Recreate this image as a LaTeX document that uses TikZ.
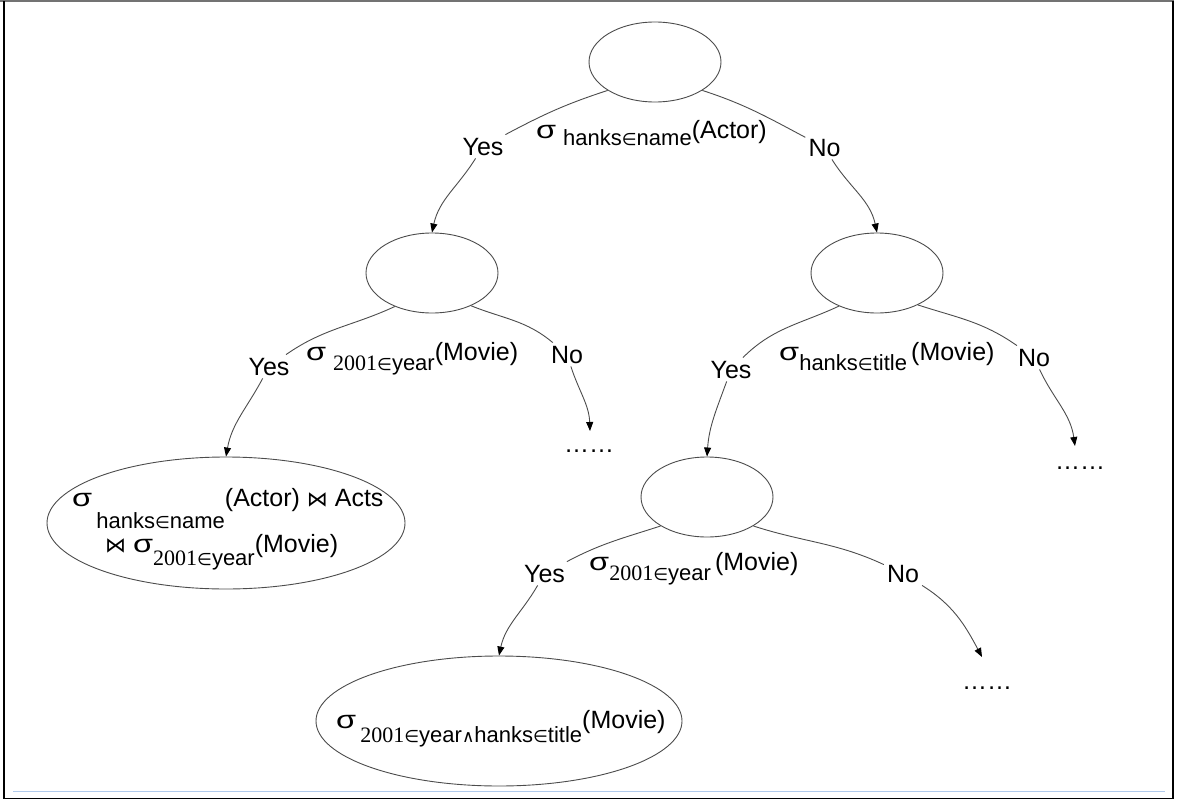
\documentclass[tikz,border=0pt]{standalone}
\usepackage{fontspec}
\usepackage{graphicx}
\setmainfont{Liberation Sans}
\newfontfamily\symf{DejaVu Sans}
\newfontfamily\serf{Liberation Serif}
\usetikzlibrary{shapes.geometric,arrows.meta}

% wide selection sigma and small operators inside subscripts
\newcommand\sig{\scalebox{1.3}[1]{σ}}
\newcommand\elt{{\symf\fontsize{17}{17}\selectfont ∈}}
\newcommand\andop{{\symf\fontsize{17}{17}\selectfont ∧}}
\newcommand\yrs{{\serf 2001}}
\newcommand\bowt{{\symf\fontsize{21}{21}\selectfont ⋈}}
% lowered subscript text
\newcommand\lowsub[2][-7pt]{\raisebox{#1}{\fontsize{22}{22}\selectfont #2}}

\definecolor{rulecol}{RGB}{176,202,236}

\begin{document}
\begin{tikzpicture}[x=1pt,y=1pt,
  every node/.style={font=\fontsize{25}{25}\selectfont, inner sep=0pt},
  box/.style={ellipse, draw=black!70, line width=0.9pt,
              minimum width=132pt, minimum height=80pt, inner sep=0pt},
  ans/.style={ellipse, draw=black!70, line width=0.9pt, inner sep=0pt},
  edge/.style={draw=black!70, line width=0.9pt},
  arr/.style={edge, -{Triangle[length=9pt,width=7pt,color=black]}},
  yn/.style={inner sep=3pt, anchor=base},
  lab/.style={anchor=base west},
]
\useasboundingbox (0,0) rectangle (1178,-800);

% frame
\draw[line width=1.6pt, black!55] (0,-0.8) -- (1174,-0.8);
\draw[line width=1.3pt] (4,-1) -- (4,-798.6) -- (1173,-798.6) -- (1173,-1);
\draw[line width=1pt, rulecol] (13,-791) -- (1165,-791);

% decision nodes and results
\node[box] (r0) at (655,-62) {};
\node[box] (ya) at (432,-273) {};
\node[box] (na) at (877,-273) {};
\node[box] (yb) at (707,-497) {};
\node[ans, minimum width=358pt, minimum height=132pt] (la) at (226,-523) {};
\node[ans, minimum width=366pt, minimum height=130pt] (lb) at (499,-721) {};

% branch labels and selections
\node[yn] (y1) at (483,-155) {Yes};
\node[yn] (n1) at (824.5,-156) {No};
\node[lab] (s1) at (536,-138) {\sig\ \lowsub[-7pt]{hanks\elt name}(Actor)};

\node[yn] (y2) at (269,-375) {Yes};
\node[yn] (n2) at (567,-363) {No};
\node[lab] (s2) at (306,-360) {\sig\ \lowsub[-10pt]{\yrs\elt year}(Movie)};

\node[yn] (y3) at (731,-378) {Yes};
\node[yn] (n3) at (1034,-366) {No};
\node[lab] (s3) at (779,-360) {\sig\lowsub[-10pt]{hanks\elt title}\,(Movie)};

\node[yn] (y4) at (544.5,-582) {Yes};
\node[yn] (n4) at (903,-582) {No};
\node[lab] (s4) at (589,-570) {\sig\lowsub[-10pt]{\yrs\elt year}\,(Movie)};

% result texts
\node[lab] (ta1) at (72,-506) {\sig\,\lowsub[-22pt]{hanks\elt name}(Actor) \bowt\ Acts};
\node[lab] (ta2) at (105,-552) {\bowt\ \sig\lowsub[-13pt]{\yrs\elt year}(Movie)};
\node[lab] (tb) at (336,-728) {\sig\,\lowsub[-14pt]{\yrs\elt year\andop hanks\elt title}(Movie)};

% unexplored branches
\node[lab] (d1) at (564,-452) {……};
\node[lab] (d2) at (1055,-469) {……};
\node[lab] (d3) at (962,-689) {……};
\coordinate (t1) at (590,-431);
\coordinate (t2) at (1075,-446);
\coordinate (t3) at (982,-657);

% connectors
\draw[edge] (r0.211) to[out=198,in=28] (y1);
\draw[arr] (y1) to[out=238,in=78] (ya.north);
\draw[edge] (r0.329) to[out=342,in=152] (n1);
\draw[arr] (n1) to[out=302,in=102] (na.north);

\draw[edge] (ya.222) to[out=205,in=35] (y2);
\draw[arr] (y2) to[out=242,in=80] (la.north);
\draw[edge] (ya.320) to[out=338,in=140] (n2);
\draw[arr] (n2) to[out=288,in=92] (t1);

\draw[edge] (na.221) to[out=205,in=45] (y3);
\draw[arr] (y3) to[out=250,in=86] (yb.north);
\draw[edge] (na.322) to[out=342,in=145] (n3);
\draw[arr] (n3) to[out=295,in=98] (t2);

\draw[edge] (yb.212) to[out=198,in=28] (y4);
\draw[arr] (y4) to[out=240,in=78] (lb.north);
\draw[edge] (yb.328) to[out=342,in=155] (n4);
\draw[arr] (n4) to[out=328,in=118] (t3);
\end{tikzpicture}
\end{document}
